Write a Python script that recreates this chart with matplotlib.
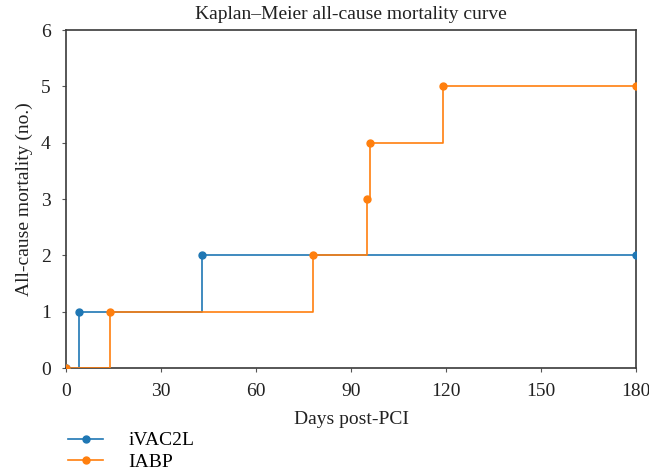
import matplotlib
matplotlib.use("Agg")
import matplotlib.pyplot as plt

# Datos de la curva (dias, muertes acumuladas)
t_ivac = [0, 4, 43, 180]
n_ivac = [0, 1, 2, 2]
t_iabp = [0, 14, 78, 95, 96, 119, 180]
n_iabp = [0, 1, 2, 3, 4, 5, 5]

C_IVAC = "#1f77b4"
C_IABP = "#ff7f0e"

plt.rcParams['font.family'] = ['Liberation Serif', 'DejaVu Serif']

fig = plt.figure(figsize=(6.49, 4.74), dpi=100)
ax = fig.add_axes([0.1017, 0.2236, 0.8783, 0.7131])

for t, n, c, name in [(t_ivac, n_ivac, C_IVAC, "iVAC2L"),
                      (t_iabp, n_iabp, C_IABP, "IABP")]:
    ax.step(t, n, where="post", color=c, lw=1.2, zorder=3)
    ax.plot(t, n, 'o', color=c, ms=5, zorder=4)
    ax.plot([], [], '-o', color=c, lw=1.2, ms=5, label=name)

ax.set_xlim(0, 180); ax.set_ylim(0, 6)
ax.set_xticks(range(0, 181, 30)); ax.set_yticks(range(0, 7))
for s in ax.spines.values():
    s.set_color("#3a3a3a"); s.set_linewidth(1.2)
ax.tick_params(direction="out", labelsize=14, length=3, width=0.8,
               color="#555555", pad=8, labelcolor="#222222")
ax.set_xlabel("Days post-PCI", fontsize=14, labelpad=8, color="#222222")
ax.set_ylabel("All-cause mortality (no.)", fontsize=14, labelpad=6, color="#222222")
ax.set_title("Kaplan\u2013Meier all-cause mortality curve", fontsize=14, pad=8,
             color="#222222")

fig.legend(loc="lower left", bbox_to_anchor=(0.084, -0.022), frameon=False,
           fontsize=14, handlelength=1.8, handletextpad=1.3,
           labelspacing=0.2, borderpad=0.2)

fig.savefig("out.png", dpi=100)
